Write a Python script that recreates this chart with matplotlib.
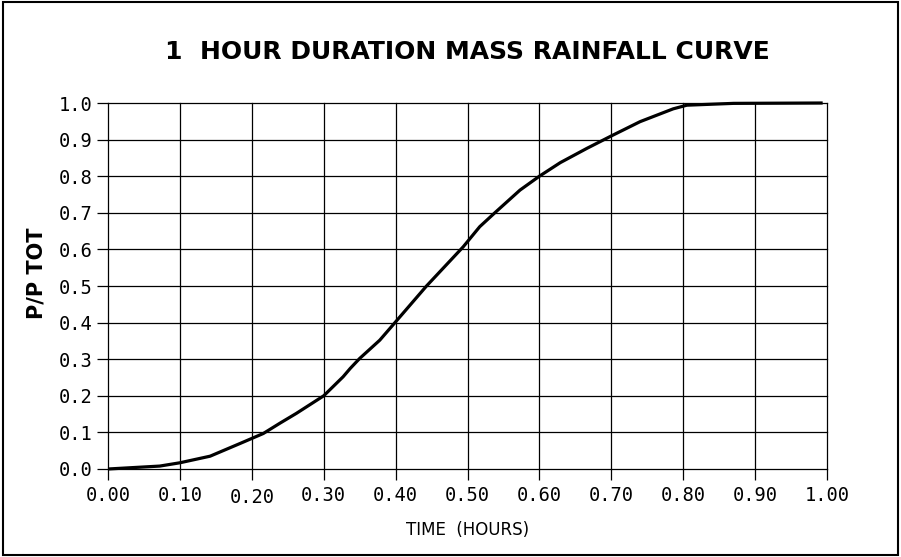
import matplotlib
matplotlib.use("Agg")
import matplotlib.pyplot as plt
from matplotlib.patches import Rectangle

# values
time_hr = [0.0, 0.072, 0.10, 0.142, 0.184, 0.216, 0.239, 0.262, 0.30, 0.327,
           0.337, 0.350, 0.378, 0.40, 0.443, 0.494, 0.517, 0.538, 0.573, 0.60,
           0.629, 0.666, 0.70, 0.74, 0.786, 0.805, 0.87, 0.994]
p_ratio = [0.0, 0.008, 0.017, 0.035, 0.070, 0.097, 0.125, 0.152, 0.200, 0.252,
           0.275, 0.302, 0.352, 0.402, 0.500, 0.607, 0.662, 0.700, 0.762, 0.800,
           0.837, 0.876, 0.910, 0.949, 0.984, 0.994, 0.999, 1.0]

x_ticks = [i / 10 for i in range(11)]
y_ticks = [i / 10 for i in range(11)]
x_labels = [f"{v:.2f}" for v in x_ticks]
y_labels = [f"{v:.1f}" for v in y_ticks]

fig = plt.figure(figsize=(9.01, 5.57), dpi=100)
ax = fig.add_axes([108 / 901, 1 - 469 / 557, 719 / 901, 366 / 557])

ax.plot(time_hr, p_ratio, color="black", linewidth=2.3, solid_capstyle="butt",
        zorder=3, clip_on=False)

ax.set_xlim(0, 1)
ax.set_ylim(0, 1)
ax.set_xticks(x_ticks)
ax.set_yticks(y_ticks)
ax.set_xticklabels(x_labels, family="DejaVu Sans Mono", fontsize=13.5)
ax.set_yticklabels(y_labels, family="DejaVu Sans Mono", fontsize=13.5)
# the 0.20 label sits a little lower in the original
ax.get_xticklabels()[2].set_y(-0.006)

ax.tick_params(axis="both", direction="out", length=8, width=0.9, color="black")
ax.tick_params(axis="x", pad=4)
ax.tick_params(axis="y", pad=3)
for s in ax.spines.values():
    s.set_visible(False)
ax.grid(True, color="black", linewidth=0.9)
ax.set_axisbelow(True)
for gl in ax.get_xgridlines() + ax.get_ygridlines():
    gl.set_clip_on(False)

ax.set_xlabel("TIME  (HOURS)", family="DejaVu Sans", fontsize=12, labelpad=10)

# y label placed by hand, it sits a bit above the axis centre in the original
fig.text(36 / 901, 1 - 273 / 557, "P/P TOT", rotation=90, ha="center", va="center",
         family="DejaVu Sans", fontsize=15, fontweight="bold")

fig.text(467 / 901, 1 - 52 / 557, "1  HOUR DURATION MASS RAINFALL CURVE",
         ha="center", va="center", fontsize=18, family="DejaVu Sans", fontweight="bold")

# outer frame
fig.patches.append(Rectangle((0.003, 0.003), 0.994, 0.994, transform=fig.transFigure,
                             fill=False, edgecolor="black", linewidth=1.5))

fig.savefig("out.png", dpi=100)
